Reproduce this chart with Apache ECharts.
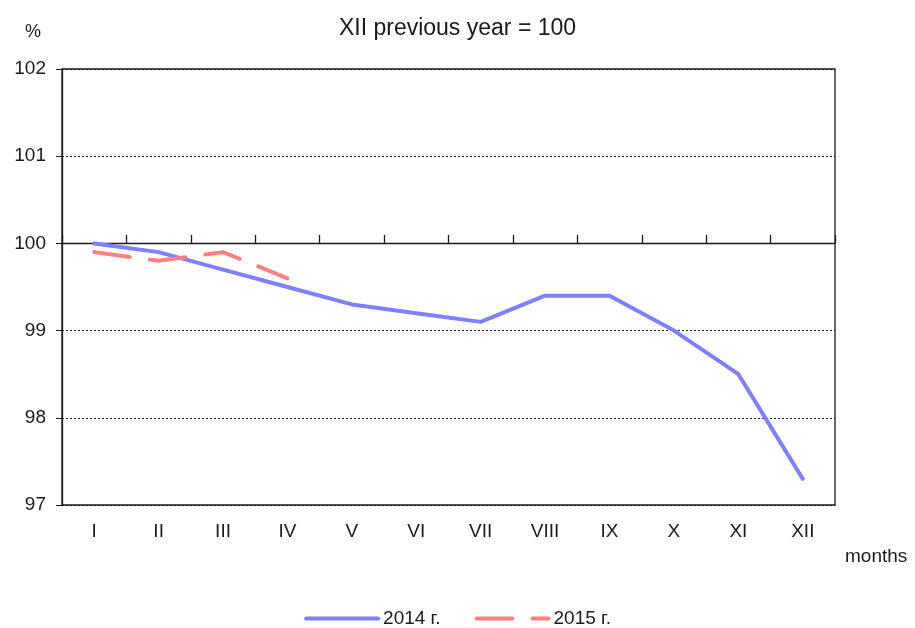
<!DOCTYPE html>
<html><head><meta charset="utf-8">
<script src="https://cdn.jsdelivr.net/npm/echarts@6/dist/echarts.min.js"></script>
<style>html,body{margin:0;padding:0;background:#fff}#c{width:915px;height:628px}</style>
</head><body><div id="c"></div>
<script>
const months = ['I','II','III','IV','V','VI','VII','VIII','IX','X','XI','XII'];
const s2014 = [100, 99.9, 99.7, 99.5, 99.3, 99.2, 99.1, 99.4, 99.4, 99.0, 98.5, 97.3];
const s2015 = [99.9, 99.8, 99.9, 99.6];
const yTicks = [97, 98, 99, 100, 101, 102];

const font = 'Liberation Sans, Arial, sans-serif';
const ink = '#1a1a1a';
const chart = echarts.init(document.getElementById('c'));
chart.setOption({
  animation: false,
  textStyle: {fontFamily: font, color: ink},
  title: {text: 'XII previous year = 100', left: 'center', top: 12,
    textStyle: {fontFamily: font, fontSize: 23, fontWeight: 'normal', color: ink}},
  grid: {left: 62, right: 80, top: 69, bottom: 123, show: true, borderColor: ink, borderWidth: 1.3},
  legend: {bottom: -5, left: 'center', itemWidth: 72, itemHeight: 14, itemGap: 34,
    itemStyle: {opacity: 0},
    lineStyle: {width: 4, cap: 'round'},
    textStyle: {fontFamily: font, fontSize: 19, color: ink},
    data: ['2014 г.', '2015 г.']},
  xAxis: [{
    type: 'category', data: months, position: 'bottom',
    axisLine: {show: false}, axisTick: {show: false},
    axisLabel: {fontSize: 19, color: ink, margin: 17, fontFamily: font},
    name: 'months', nameLocation: 'end', nameGap: 10,
    nameTextStyle: {fontSize: 19, color: ink, fontFamily: font, verticalAlign: 'top', padding: [42, 0, 0, 0]}
  }, {
    type: 'category', data: months, position: 'bottom', offset: -262,
    axisLine: {show: true, lineStyle: {color: ink, width: 1.3}},
    axisTick: {show: true, inside: true, length: 8, lineStyle: {color: ink, width: 1.3}},
    axisLabel: {show: false}
  }],
  yAxis: {
    type: 'value', min: 97, max: 102, interval: 1,
    name: '%', nameLocation: 'end', nameGap: 28,
    nameTextStyle: {fontSize: 18, color: ink, fontFamily: font, padding: [0, 58, 0, 0]},
    axisLine: {show: true, lineStyle: {color: ink, width: 1.3}},
    axisTick: {show: true, length: 6, lineStyle: {color: ink}},
    axisLabel: {fontSize: 19, color: ink, margin: 16, fontFamily: font,
      formatter: v => yTicks.includes(v) ? String(v) : ''},
    splitLine: {show: true, lineStyle: {color: ink, width: 1, type: [2, 2]}}
  },
  series: [{
    name: '2014 г.', type: 'line', data: s2014, symbol: 'none', z: 3,
    lineStyle: {color: '#8080ff', width: 4, cap: 'round', join: 'round'},
    itemStyle: {color: '#8080ff'}
  }, {
    name: '2015 г.', type: 'line', data: s2015, symbol: 'none', z: 4,
    lineStyle: {color: '#ff8080', width: 4, type: [36, 20], cap: 'round', join: 'round'},
    itemStyle: {color: '#ff8080'}
  }]
});
</script></body></html>
